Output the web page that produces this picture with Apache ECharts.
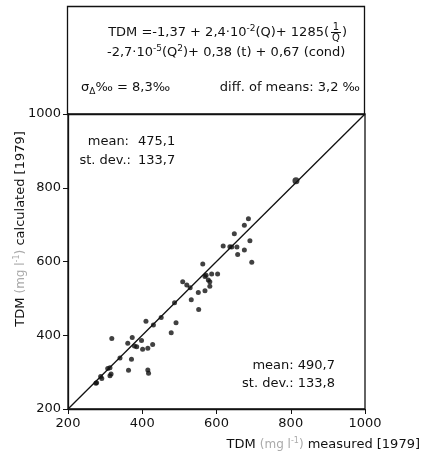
<!DOCTYPE html>
<html>
<head>
<meta charset="utf-8">
<script src="https://cdn.jsdelivr.net/npm/echarts@6/dist/echarts.min.js"></script>
<style>
  html, body { margin: 0; padding: 0; background: #fff; }
  #chart { width: 422px; height: 459px; }
</style>
</head>
<body>
<div id="chart"></div>
<script>
// TDM (mg/l) 1979: measured vs calculated
const measured = [275, 277, 288, 291, 307, 313, 316, 313, 318, 340, 361, 363, 371, 373, 379, 385,
  398, 401, 410, 415, 415, 417, 428, 430, 451, 478, 487, 491, 509, 520, 529, 532, 552, 551,
  563, 569, 569, 572, 578, 582, 582, 587, 603, 618, 636, 641, 648, 655, 657, 675, 675, 686,
  690, 695];
const calculated = [270, 271, 288, 283, 310, 312, 295, 290, 391, 338, 378, 305, 335, 394, 371, 369,
  386, 362, 438, 365, 306, 297, 375, 428, 448, 407, 488, 434, 545, 536, 529, 496, 470, 516,
  593, 521, 559, 563, 550, 545, 533, 566, 566, 642, 640, 639, 675, 639, 619, 631, 698, 716,
  656, 598];
const bigPoint = [814, 819];
const parityLine = [200, 1000];
const axisTicks = [200, 400, 600, 800, 1000];

const FONT = 'DejaVu Sans';
const INK = '#111';

let chartDom = document.getElementById('chart');
let myChart = echarts.init(chartDom);
let option;

let points = measured.map((m, i) => [m, calculated[i]]);

function txt(x, y, text, align, size) {
  return {
    type: 'text', x: x, y: y,
    style: { text: text, fill: INK, font: (size || 13) + 'px "' + FONT + '"', align: align || 'left', verticalAlign: 'middle' }
  };
}

const sup = { fontSize: 9, fontFamily: FONT, fill: INK, padding: [0, 0, 9, 0] };
const sub = { fontSize: 9, fontFamily: FONT, fill: INK, padding: [7, 0, 0, 0] };
const base = { fontSize: 13, fontFamily: FONT, fill: INK };
const gray = { fontSize: 12, fontFamily: FONT, fill: '#aaa' };
const graySup = { fontSize: 8, fontFamily: FONT, fill: '#aaa', padding: [0, 0, 8, 0] };

option = {
  animation: false,
  grid: { left: 68, right: 57, top: 114, bottom: 50, show: true, borderColor: INK, borderWidth: 1.3 },
  xAxis: {
    type: 'value', min: axisTicks[0], max: axisTicks[axisTicks.length - 1], interval: 200,
    axisLine: { lineStyle: { color: INK, width: 1.3 } },
    axisTick: { show: true, length: 5, lineStyle: { color: INK } },
    axisLabel: { color: INK, fontFamily: FONT, fontSize: 13, margin: 8, formatter: v => String(v) },
    splitLine: { show: false }
  },
  yAxis: {
    type: 'value', min: axisTicks[0], max: axisTicks[axisTicks.length - 1], interval: 200,
    axisLine: { show: true, lineStyle: { color: INK, width: 1.3 } },
    axisTick: { show: true, length: 5, lineStyle: { color: INK } },
    axisLabel: { color: INK, fontFamily: FONT, fontSize: 13, margin: 7, formatter: v => String(v) },
    splitLine: { show: false }
  },
  series: [
    {
      type: 'line', data: [[parityLine[0], parityLine[0]], [parityLine[1], parityLine[1]]],
      symbol: 'none', lineStyle: { color: INK, width: 1.3 }, z: 2
    },
    {
      type: 'scatter', data: points, symbolSize: 5, itemStyle: { color: INK }, z: 3
    },
    {
      type: 'scatter', data: [bigPoint], symbolSize: 7, itemStyle: { color: INK }, z: 3
    }
  ],
  graphic: [
    // upper text box
    { type: 'rect', shape: { x: 67.5, y: 6.5, width: 297, height: 108 },
      style: { fill: 'none', stroke: INK, lineWidth: 1.3 } },
    { type: 'text', x: 329, y: 33,
      style: { text: '{b|TDM =-1,37 + 2,4·10}{s|-2}{b|(Q)+ 1285(}', align: 'right', verticalAlign: 'middle',
        rich: { b: base, s: sup } } },
    txt(336, 27, '1', 'center', 10),
    { type: 'line', shape: { x1: 331, y1: 32.5, x2: 341, y2: 32.5 }, style: { stroke: INK, lineWidth: 1 } },
    txt(336, 38, 'Q', 'center', 10),
    txt(342, 33, ')', 'left'),
    { type: 'text', x: 107, y: 53,
      style: { text: '{b|-2,7·10}{s|-5}{b|(Q}{s|2}{b|)+ 0,38 (t) + 0,67 (cond)}', align: 'left', verticalAlign: 'middle',
        rich: { b: base, s: sup } } },
    { type: 'text', x: 81, y: 88,
      style: { text: '{b|σ}{d|Δ}{b|‰ = 8,3‰}', align: 'left', verticalAlign: 'middle',
        rich: { b: base, d: sub } } },
    txt(360, 88, 'diff. of means: 3,2 ‰', 'right'),
    // statistics in the plot
    txt(129, 142, 'mean:', 'right'),
    txt(138, 142, '475,1', 'left'),
    txt(131, 161, 'st. dev.:', 'right'),
    txt(138, 161, '133,7', 'left'),
    txt(335, 366, 'mean: 490,7', 'right'),
    txt(335, 384, 'st. dev.: 133,8', 'right'),
    // axis titles
    { type: 'text', x: 420, y: 445,
      style: { text: '{b|TDM }{g|(mg l}{gs|-1}{g|)}{b| measured [1979]}', align: 'right', verticalAlign: 'middle',
        rich: { b: base, g: gray, gs: graySup } } },
    { type: 'text', x: 21, y: 229, rotation: Math.PI / 2,
      style: { text: '{b|TDM }{g|(mg l}{gs|-1}{g|)}{b| calculated [1979]}', align: 'center', verticalAlign: 'middle',
        rich: { b: base, g: gray, gs: graySup } } }
  ]
};

option && myChart.setOption(option);
</script>
</body>
</html>
